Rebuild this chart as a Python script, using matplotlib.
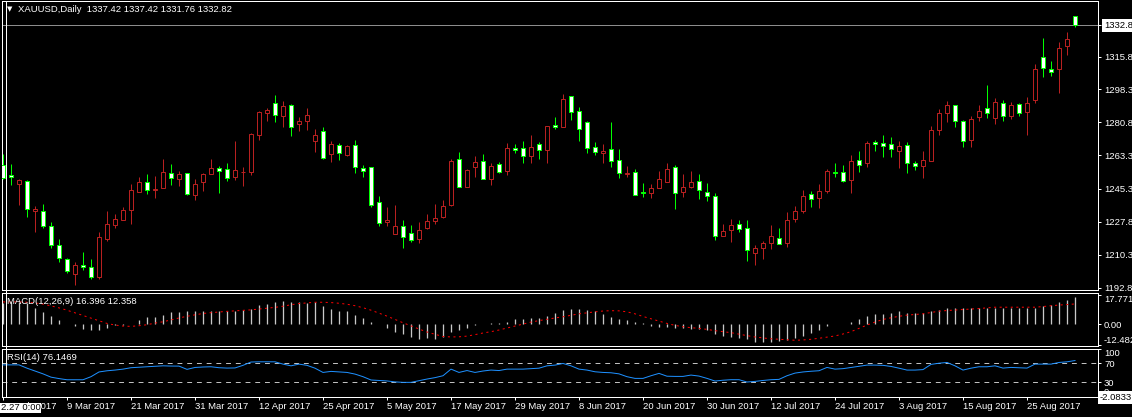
import matplotlib
matplotlib.use('Agg')
import matplotlib.pyplot as plt
from matplotlib.lines import Line2D
from matplotlib.patches import Rectangle

W, H = 1132, 417
PX = 72 / 100  # one pixel in points
FS = 6.8

# ---------------------------------------------------------------- data (XAUUSD daily)
opens = [1258.0, 1252.6, 1247.7, 1249.3, 1233.6, 1233.4, 1225.4, 1215.2, 1207.8, 1199.9,
         1204.9, 1204.0, 1198.3, 1218.5, 1226.1, 1228.6, 1234.1, 1243.7, 1248.9, 1244.8,
         1245.9, 1253.7, 1250.7, 1253.7, 1242.0, 1249.1, 1253.4, 1256.4, 1255.9, 1251.8,
         1254.1, 1254.3, 1274.2, 1286.0, 1291.0, 1284.4, 1289.9, 1279.8, 1281.7, 1270.7,
         1276.0, 1263.9, 1268.7, 1263.4, 1268.7, 1256.4, 1256.8, 1238.1, 1227.7, 1221.3,
         1225.8, 1222.0, 1218.6, 1224.5, 1228.4, 1230.4, 1236.8, 1261.1, 1246.1, 1256.8,
         1260.0, 1250.7, 1258.5, 1255.0, 1266.9, 1266.9, 1262.7, 1269.1, 1265.9, 1279.4,
         1278.5, 1294.7, 1286.7, 1280.8, 1267.5, 1264.6, 1266.4, 1260.5, 1253.2, 1254.1,
         1243.9, 1242.9, 1245.6, 1249.1, 1256.8, 1243.9, 1246.4, 1249.3, 1243.9, 1241.3,
         1220.2, 1223.6, 1226.6, 1224.7, 1211.3, 1214.0, 1216.7, 1219.4, 1216.7, 1229.1,
         1233.6, 1242.5, 1240.5, 1244.1, 1254.4, 1254.3, 1250.2, 1260.7, 1258.9, 1270.1,
         1269.6, 1269.2, 1265.6, 1268.5, 1258.9, 1257.3, 1260.3, 1276.9, 1285.6, 1289.9,
         1281.4, 1271.2, 1283.8, 1288.3, 1283.3, 1291.0, 1284.4, 1290.5, 1286.2, 1292.6,
         1315.6, 1309.2, 1309.2, 1321.5, 1337.42]
highs = [1263.9, 1258.5, 1250.4, 1250.0, 1236.1, 1237.2, 1227.5, 1218.5, 1208.7, 1206.2,
         1211.5, 1207.8, 1222.2, 1233.6, 1231.8, 1235.7, 1247.9, 1251.6, 1253.2, 1252.3,
         1261.2, 1258.5, 1254.8, 1253.7, 1250.5, 1253.7, 1261.2, 1257.5, 1259.1, 1270.8,
         1256.9, 1274.9, 1287.0, 1288.3, 1295.4, 1292.2, 1290.6, 1283.7, 1288.6, 1277.1,
         1278.3, 1270.8, 1269.6, 1268.7, 1271.4, 1258.0, 1256.8, 1241.4, 1235.7, 1236.6,
         1228.6, 1225.9, 1227.5, 1231.8, 1237.2, 1239.3, 1261.2, 1265.0, 1256.2, 1262.8,
         1263.9, 1258.9, 1259.6, 1269.6, 1269.2, 1270.8, 1274.0, 1270.3, 1278.9, 1283.5,
         1296.0, 1294.7, 1288.8, 1281.4, 1270.3, 1269.2, 1281.0, 1266.6, 1257.5, 1255.7,
         1248.4, 1247.9, 1254.8, 1258.9, 1258.0, 1253.2, 1254.8, 1253.2, 1248.4, 1242.9,
         1226.5, 1229.1, 1229.0, 1228.6, 1215.6, 1217.8, 1225.9, 1224.3, 1232.9, 1236.1,
         1244.6, 1244.1, 1248.0, 1255.9, 1259.1, 1258.0, 1263.4, 1265.5, 1270.7, 1271.4,
         1274.0, 1273.1, 1270.8, 1270.1, 1260.1, 1265.5, 1278.9, 1287.8, 1292.2, 1289.9,
         1282.1, 1284.2, 1290.1, 1300.8, 1293.7, 1292.7, 1291.5, 1291.0, 1294.2, 1312.0,
         1325.7, 1313.6, 1323.8, 1329.1, 1337.42]
lows = [1250.4, 1247.3, 1236.6, 1230.4, 1222.4, 1224.7, 1213.6, 1206.3, 1200.8, 1194.4,
        1201.9, 1197.2, 1197.2, 1217.5, 1224.5, 1228.6, 1226.5, 1243.7, 1242.5, 1240.4,
        1245.9, 1247.5, 1246.9, 1242.0, 1239.3, 1244.3, 1253.4, 1243.2, 1249.6, 1250.0,
        1246.8, 1252.7, 1271.4, 1281.5, 1281.2, 1278.5, 1273.7, 1276.3, 1276.9, 1265.1,
        1261.0, 1259.8, 1260.7, 1262.8, 1253.9, 1251.8, 1235.7, 1225.4, 1225.4, 1221.3,
        1213.6, 1216.8, 1216.5, 1224.0, 1226.6, 1229.8, 1236.3, 1246.1, 1246.1, 1251.8,
        1250.4, 1247.5, 1253.6, 1252.8, 1264.6, 1259.2, 1259.2, 1261.4, 1258.9, 1277.4,
        1278.5, 1282.1, 1270.8, 1264.6, 1263.4, 1258.9, 1256.9, 1251.2, 1251.8, 1242.3,
        1241.1, 1240.5, 1245.6, 1249.1, 1234.6, 1241.1, 1245.9, 1239.7, 1238.9, 1218.3,
        1220.2, 1217.0, 1222.4, 1206.7, 1204.7, 1207.9, 1213.5, 1216.2, 1214.3, 1227.7,
        1232.5, 1235.6, 1235.0, 1243.2, 1251.8, 1248.9, 1243.2, 1254.3, 1257.1, 1265.6,
        1262.5, 1262.5, 1256.6, 1253.9, 1255.5, 1251.2, 1260.3, 1274.2, 1281.2, 1278.5,
        1267.5, 1267.8, 1281.7, 1283.3, 1280.1, 1281.7, 1282.8, 1284.4, 1274.0, 1291.3,
        1304.9, 1305.4, 1296.3, 1316.4, 1331.76]
closes = [1251.1, 1251.6, 1250.0, 1234.9, 1234.5, 1225.6, 1215.6, 1208.5, 1201.4, 1204.6,
          1203.6, 1198.3, 1219.5, 1226.5, 1229.1, 1234.0, 1244.6, 1248.9, 1245.0, 1245.2,
          1254.3, 1251.2, 1253.2, 1242.5, 1247.9, 1253.2, 1256.4, 1255.0, 1251.2, 1255.3,
          1254.6, 1274.6, 1286.3, 1287.6, 1284.6, 1289.5, 1278.5, 1281.4, 1284.6, 1274.0,
          1261.6, 1269.2, 1264.3, 1268.2, 1256.8, 1255.0, 1236.6, 1227.2, 1228.6, 1225.4,
          1219.7, 1217.9, 1223.6, 1228.1, 1229.7, 1236.1, 1260.3, 1246.1, 1255.3, 1259.6,
          1250.4, 1257.5, 1254.6, 1266.9, 1266.2, 1262.7, 1267.5, 1265.9, 1278.9, 1278.5,
          1293.1, 1286.5, 1277.4, 1266.9, 1264.8, 1265.5, 1260.0, 1253.6, 1253.7, 1242.3,
          1242.9, 1245.6, 1250.4, 1256.2, 1243.4, 1246.1, 1248.8, 1245.0, 1241.4, 1220.1,
          1223.1, 1226.3, 1224.2, 1212.6, 1214.0, 1216.7, 1220.4, 1216.2, 1228.6, 1233.4,
          1241.4, 1239.8, 1244.1, 1254.8, 1253.9, 1249.6, 1260.1, 1258.2, 1269.6, 1269.1,
          1268.3, 1266.4, 1268.2, 1258.9, 1257.3, 1260.5, 1276.7, 1285.6, 1289.9, 1281.4,
          1270.7, 1282.4, 1286.9, 1285.6, 1291.5, 1284.4, 1289.9, 1285.6, 1291.0, 1309.2,
          1309.7, 1307.6, 1320.4, 1325.2, 1332.82]

macd = [12.7, 13.7, 13.7, 12.7, 10.1, 7.8, 5.2, 2.8, 0.5, -1.0,
        -2.7, -3.6, -3.5, -2.0, -0.6, -0.4, 0.5, 2.8, 4.5, 4.5,
        5.9, 7.3, 7.3, 7.9, 7.9, 7.9, 7.9, 7.9, 8.3, 7.9,
        8.5, 9.3, 11.5, 12.5, 13.8, 14.2, 13.8, 13.8, 13.2, 13.4,
        10.9, 9.5, 7.9, 7.9, 5.9, 4.0, 1.6, 0.1, -2.0, -4.5,
        -5.9, -7.9, -8.9, -8.5, -8.9, -7.9, -4.9, -3.6, -2.0, -0.4,
        0.2, 0.6, 1.0, 1.2, 3.0, 3.4, 4.0, 4.0, 5.3, 6.9,
        9.0, 9.6, 9.6, 9.0, 8.0, 6.0, 4.6, 3.4, 2.4, 1.4,
        0.6, -1.2, -1.6, -1.6, -2.4, -2.4, -3.0, -3.0, -3.6, -6.0,
        -7.0, -7.4, -8.0, -8.6, -10.4, -10.4, -10.4, -10.0, -9.6, -8.0,
        -7.0, -5.0, -3.6, -1.0, 0.4, 0.4, 1.6, 3.0, 5.0, 6.0,
        6.4, 7.0, 8.0, 7.0, 7.0, 7.0, 8.0, 9.0, 10.0, 10.0,
        10.0, 10.0, 10.0, 10.2, 10.2, 10.1, 10.1, 10.1, 10.1, 10.1,
        11.1, 11.7, 13.4, 14.8, 16.396]
signal = [13.6, 13.6, 13.6, 13.4, 13.0, 12.3, 11.2, 10.0, 8.6, 7.0,
          5.4, 3.8, 2.2, 0.6, -0.4, -1.0, -1.2, -0.8, -0.2, 0.8,
          1.6, 2.7, 3.9, 4.9, 5.8, 6.6, 7.1, 7.5, 7.9, 8.2,
          8.5, 8.8, 9.3, 9.8, 10.3, 11.0, 11.9, 12.6, 13.0, 13.4,
          13.4, 13.2, 12.8, 12.2, 11.3, 10.1, 8.6, 6.8, 5.0, 3.0,
          1.0, -0.9, -2.8, -4.6, -6.0, -7.3, -7.6, -7.5, -7.1, -6.2,
          -5.2, -4.4, -3.4, -2.2, -1.0, 0.2, 1.4, 2.3, 3.1, 3.9,
          4.6, 5.5, 6.4, 7.0, 7.6, 8.1, 8.3, 8.2, 7.6, 6.4,
          4.8, 3.4, 2.0, 0.6, -0.6, -1.4, -2.0, -2.4, -3.0, -3.8,
          -4.4, -5.0, -5.9, -6.8, -7.6, -8.2, -8.7, -9.0, -9.3, -9.6,
          -9.4, -9.0, -8.4, -7.7, -7.0, -5.8, -4.4, -2.4, -0.4, 1.4,
          3.0, 4.0, 4.9, 5.6, 6.0, 6.4, 7.2, 8.0, 8.4, 8.7,
          9.0, 9.3, 9.6, 10.0, 10.4, 10.4, 10.4, 10.4, 10.4, 10.4,
          10.8, 11.3, 11.7, 12.0, 12.358]
rsi = [67, 67, 67, 60, 54, 48, 41, 38, 35.5, 35.5,
       35.5, 42, 52, 54.5, 56, 58, 61, 62, 63, 64,
       65, 64.5, 64.4, 57.5, 61.5, 62.5, 63, 61, 60.2, 60.5,
       66, 73, 73.5, 73.5, 73.5, 68.6, 65, 68.6, 66, 60,
       51, 53.2, 52, 51, 47.5, 42, 35, 34, 33, 31,
       30, 30, 33.5, 37, 40, 44, 58, 51, 55, 51,
       54, 56, 55, 58, 58, 58, 59, 60, 65, 66.5,
       70, 65, 58, 56, 52.4, 51, 50.3, 48, 42, 38.4,
       38.4, 44, 49, 43, 42.6, 42.6, 45.4, 43.3, 38.4, 32.8,
       34.5, 35.6, 35.6, 30.7, 32, 34, 35.6, 36.3, 44, 49.6,
       52, 53.5, 54.6, 61.6, 58, 59, 61.6, 64, 66.5, 66.5,
       66, 63.7, 60, 56, 56, 57, 68, 70.5, 72.1, 65,
       56, 60, 63, 63, 65, 60.2, 61.6, 61, 60.2, 68.6,
       68.6, 68.6, 72.1, 73.5, 76.1469]

date_ticks = [0, 8, 16, 24, 32, 40, 48, 56, 64, 72, 80, 88, 96, 104, 112, 120, 128]
date_labels = ['27 Feb 2017', '9 Mar 2017', '21 Mar 2017', '31 Mar 2017', '12 Apr 2017',
               '25 Apr 2017', '5 May 2017', '17 May 2017', '29 May 2017', '8 Jun 2017',
               '20 Jun 2017', '30 Jun 2017', '12 Jul 2017', '24 Jul 2017', '3 Aug 2017',
               '15 Aug 2017', '25 Aug 2017']
price_ticks = [1332.82, 1315.8, 1298.3, 1280.8, 1263.3, 1245.3, 1227.8, 1210.3, 1192.8]
price_labels = ['1332.8', '1315.8', '1298.3', '1280.8', '1263.3', '1245.3', '1227.8',
                '1210.3', '1192.8']
macd_ticks = [17.771, 0.0, -12.482]
macd_labels = ['17.771', '0.00', '-12.482']
rsi_ticks = [100, 70, 30, 0]
rsi_levels = [70, 30]

BULL = '#b82020'
BEAR = '#00ff00'

plt.rcParams['font.family'] = ['Liberation Sans', 'DejaVu Sans']
plt.rcParams['font.size'] = FS
plt.rcParams['lines.scale_dashes'] = False

fig = plt.figure(figsize=(W / 100, H / 100), dpi=100, facecolor='black')


def px_box(x0, y0, x1, y1):
    return [x0 / W, 1 - y1 / H, (x1 - x0) / W, (y1 - y0) / H]


def style(a):
    a.set_facecolor('black')
    for s in a.spines.values():
        s.set_color('white'); s.set_linewidth(PX)
    a.set_xlim(-0.125, 136.875)
    a.yaxis.tick_right()
    a.tick_params(axis='y', colors='white', length=3 * PX, width=PX, pad=3 * PX,
                  labelsize=FS)
    a.tick_params(axis='x', bottom=False, labelbottom=False)


ax = fig.add_axes(px_box(2, 1, 1098, 290))
ax_m = fig.add_axes(px_box(2, 293, 1098, 346))
ax_r = fig.add_axes(px_box(2, 349, 1098, 397))
for a in (ax, ax_m, ax_r):
    style(a)

# ---------------------------------------------------------------- candles
idx = list(range(len(opens)))
up = [c >= o for o, c in zip(opens, closes)]
cols = [BULL if u else BEAR for u in up]
ax.vlines(idx, lows, highs, colors=cols, lw=PX, zorder=2)
ax.bar(idx, [max(abs(c - o), 0.3) for o, c in zip(opens, closes)],
       bottom=[min(o, c) for o, c in zip(opens, closes)], width=0.5,
       color=['black' if u else 'white' for u in up], edgecolor=cols, lw=PX, zorder=3)
ax.axhline(closes[-1], color='#8c8c8c', lw=PX, zorder=1)
ax.set_ylim(1191.5, 1345.4)
ax.set_yticks(price_ticks, price_labels)
lab = ax.get_yticklabels()[0]
lab.set_color('black')
lab.set_bbox(dict(boxstyle='square,pad=0.18', fc='white', ec='none'))

# ---------------------------------------------------------------- MACD
ax_m.vlines(idx, 0, macd, colors='#c8c8c8', lw=1.3 * PX, zorder=2)
ax_m.plot(idx, signal, color='red', lw=PX, ls=(0, (1.5, 2.5)), zorder=3)
ax_m.set_ylim(-13.07, 19.0)
ax_m.set_yticks(macd_ticks, macd_labels)
ml = ax_m.get_yticklabels()
ml[0].set_va('top'); ml[2].set_va('bottom')

# ---------------------------------------------------------------- RSI
for lv in rsi_levels:
    ax_r.axhline(lv, color='#c0c0c0', lw=PX, ls=(0, (3.5, 3.5)), zorder=1)
ax_r.plot(idx, rsi, color='#1e90ff', lw=PX, zorder=3)
ax_r.set_ylim(-1.0, 100.6)
ax_r.set_yticks(rsi_ticks, [str(t) for t in rsi_ticks])
rl = ax_r.get_yticklabels()
rl[0].set_va('top'); rl[3].set_va('bottom')
ax_r.text(1.0015, -2.0833, '-2.0833', transform=ax_r.get_yaxis_transform(),
          ha='left', va='center', color='black', fontsize=FS, clip_on=False,
          bbox=dict(boxstyle='square,pad=0.18', fc='white', ec='none'))
ax_r.tick_params(axis='x', bottom=True, labelbottom=True, colors='white',
                 length=3 * PX, width=PX, pad=2 * PX, labelsize=FS)
ax_r.set_xticks(date_ticks, date_labels)
for t in ax_r.get_xticklabels():
    t.set_ha('left')

# ---------------------------------------------------------------- frame and texts
fig.add_artist(Line2D([5.5 / W, 5.5 / W], [1 - 1 / H, 1 - 397 / H], color='white', lw=PX))
fig.add_artist(Rectangle((0, 1 - 413 / H), 41.5 / W, 10.5 / H, transform=fig.transFigure,
                         fc='white', ec='none', zorder=5))
fig.text(1 / W, 1 - 407.8 / H, '2.27 0:00', color='black', va='center', ha='left', zorder=6)
fig.text(6.5 / W, 1 - 9.5 / H, '\u25bc', color='white', va='center', ha='left',
         fontsize=5, family='DejaVu Sans')
fig.text(17.5 / W, 1 - 9.5 / H, 'XAUUSD,Daily  1337.42 1337.42 1331.76 1332.82',
         color='white', va='center', ha='left')
fig.text(7.3 / W, 1 - 301.7 / H, 'MACD(12,26,9) 16.396 12.358', color='white',
         va='center', ha='left')
fig.text(7.3 / W, 1 - 357.3 / H, 'RSI(14) 76.1469', color='white', va='center', ha='left')

fig.savefig('out.png', dpi=100, facecolor='black')
